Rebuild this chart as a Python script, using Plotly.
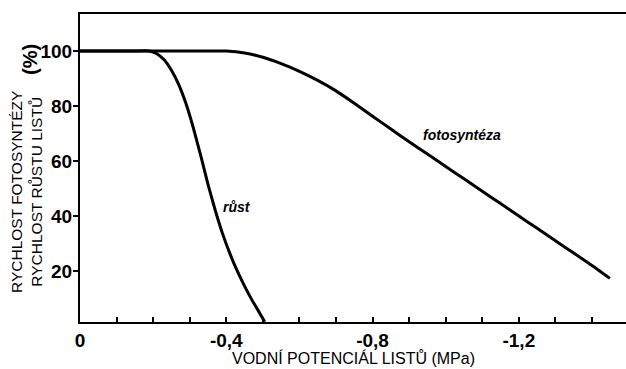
import plotly.graph_objects as go

# Leaf water potential (MPa) and relative rates (%)
photo_psi = [0.0, -0.05, -0.1, -0.15, -0.2, -0.25, -0.3, -0.35, -0.4, -0.45, -0.5,
             -0.55, -0.6, -0.65, -0.7, -0.75, -0.8, -0.85, -0.9, -0.95, -1.0,
             -1.05, -1.1, -1.15, -1.2, -1.25, -1.3, -1.35, -1.4, -1.449]
photo_rate = [100, 100, 100, 100, 100, 100, 100, 100, 100, 99.3, 97.7,
              95.4, 92.6, 89.3, 85.5, 81.0, 76.3, 71.6, 67.0, 62.5, 58.0,
              53.5, 49.0, 44.5, 40.0, 35.5, 31.0, 26.5, 22.0, 17.3]

growth_psi = [0.0, -0.05, -0.1, -0.15, -0.19, -0.21, -0.23, -0.25, -0.27, -0.29,
              -0.31, -0.33, -0.35, -0.37, -0.39, -0.41, -0.43, -0.45, -0.47,
              -0.49, -0.505]
growth_rate = [100, 100, 100, 100, 100, 99.0, 96.8, 93.0, 87.8, 80.8,
               72.0, 62.0, 51.5, 42.0, 33.5, 26.3, 20.0, 14.5, 9.5, 5.0, 1.5]

x_tick_vals = [0.0, -0.1, -0.2, -0.3, -0.4, -0.5, -0.6, -0.7, -0.8, -0.9,
               -1.0, -1.1, -1.2, -1.3, -1.4]
x_tick_text = ["0", "", "", "", "-0,4", "", "", "", "-0,8", "", "", "", "-1,2", "", ""]
y_tick_vals = [20, 40, 60, 80, 100]

FONT = "Liberation Sans"
PLOT_L, PLOT_R, PLOT_T, PLOT_B = 80, 626, 14, 322


def px_to_paper(px, py):
    """Convert a pixel position on the page to paper coordinates."""
    return (px - PLOT_L) / (PLOT_R - PLOT_L), (PLOT_B - py) / (PLOT_B - PLOT_T)


fig = go.Figure()
curve_line = dict(color="black", width=3, shape="spline", smoothing=0.5)
fig.add_trace(go.Scatter(x=photo_psi, y=photo_rate, mode="lines",
                         line=curve_line, hoverinfo="skip"))
fig.add_trace(go.Scatter(x=growth_psi, y=growth_rate, mode="lines",
                         line=curve_line, hoverinfo="skip"))

# curve labels
fig.add_annotation(x=-0.428, y=43.3, xref="x", yref="y", text="růst", showarrow=False,
                   font=dict(family=FONT, size=14, color="black", weight="bold", style="italic"))
fig.add_annotation(x=-1.045, y=69.5, xref="x", yref="y", text="fotosyntéza", showarrow=False,
                   font=dict(family=FONT, size=14, color="black", weight="bold", style="italic"))

# axis titles
tx, ty = px_to_paper(26, 192)
fig.add_annotation(x=tx, y=ty, xref="paper", yref="paper",
                   text="RYCHLOST FOTOSYNTÉZY<br>RYCHLOST RŮSTU LISTŮ",
                   textangle=-90, showarrow=False, xanchor="center", yanchor="middle",
                   font=dict(family=FONT, size=15.5, color="black"))
px_, py_ = px_to_paper(30, 60)
fig.add_annotation(x=px_, y=py_, xref="paper", yref="paper", text="(%)",
                   textangle=-90, showarrow=False, xanchor="center", yanchor="middle",
                   font=dict(family=FONT, size=20, color="black", weight="bold"))
xx, xy = px_to_paper(353, 358)
fig.add_annotation(x=xx, y=xy, xref="paper", yref="paper",
                   text="VODNÍ POTENCIÁL LISTŮ (MPa)", showarrow=False,
                   xanchor="center", yanchor="middle",
                   font=dict(family=FONT, size=16, color="black"))

fig.update_xaxes(range=[0.0, -1.493], tickvals=x_tick_vals, ticktext=x_tick_text,
                 ticks="inside", ticklen=5, tickwidth=1.5, tickcolor="black",
                 showline=True, linecolor="black", linewidth=2, mirror=True,
                 showgrid=False, zeroline=False,
                 tickfont=dict(family=FONT, size=19, color="black", weight="bold"))
fig.update_yaxes(range=[1.45, 113.45], tickvals=y_tick_vals,
                 ticks="outside", ticklen=5, tickwidth=1.5, tickcolor="black",
                 ticklabelstandoff=-3,
                 showline=True, linecolor="black", linewidth=2,
                 showgrid=False, zeroline=False,
                 tickfont=dict(family=FONT, size=19, color="black", weight="bold"))

fig.update_layout(width=626, height=369,
                  margin=dict(l=PLOT_L, r=626 - PLOT_R, t=PLOT_T, b=369 - PLOT_B),
                  paper_bgcolor="white", plot_bgcolor="white", showlegend=False)

fig.write_html("out.html")
